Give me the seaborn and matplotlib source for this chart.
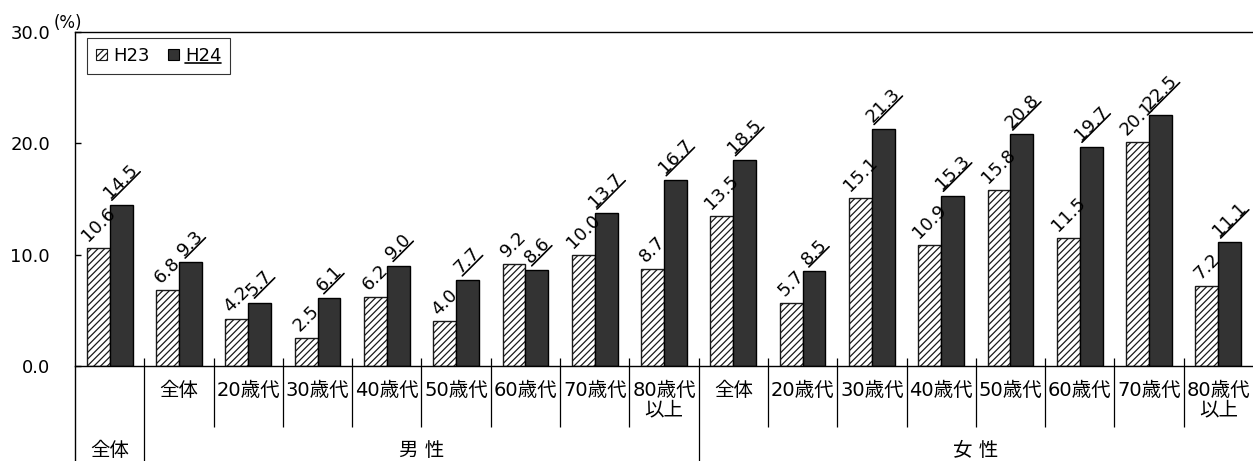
import numpy as np
import pandas as pd
import matplotlib
matplotlib.use("Agg")
import matplotlib.pyplot as plt
import seaborn as sns
from matplotlib.lines import Line2D
from matplotlib.patches import Patch
from matplotlib.transforms import IdentityTransform

# ---- data -------------------------------------------------------------
groups = ["全体"] + ["男 性"] * 8 + ["女 性"] * 8
sub_labels = ["", "全体", "20歳代", "30歳代", "40歳代", "50歳代", "60歳代", "70歳代", "80歳代\n以上",
              "全体", "20歳代", "30歳代", "40歳代", "50歳代", "60歳代", "70歳代", "80歳代\n以上"]
years = ["H23", "H24"]
h23 = [10.6, 6.8, 4.2, 2.5, 6.2, 4.0, 9.2, 10.0, 8.7, 13.5, 5.7, 15.1, 10.9, 15.8, 11.5, 20.1, 7.2]
h24 = [14.5, 9.3, 5.7, 6.1, 9.0, 7.7, 8.6, 13.7, 16.7, 18.5, 8.5, 21.3, 15.3, 20.8, 19.7, 22.5, 11.1]
y_ticks = [0, 10, 20, 30]

keys = [g + s for g, s in zip(groups, sub_labels)]
df = pd.DataFrame({
    "key": keys * 2,
    "year": [years[0]] * len(keys) + [years[1]] * len(keys),
    "value": h23 + h24,
})

# ---- style ------------------------------------------------------------
sns.set_style("white")
plt.rcParams["font.family"] = ["DejaVu Sans", "Noto Sans CJK JP"]
plt.rcParams["hatch.linewidth"] = 0.9
plt.rcParams["text.color"] = "black"
plt.rcParams["axes.labelcolor"] = "black"
plt.rcParams["xtick.color"] = "black"
plt.rcParams["ytick.color"] = "black"

W, H = 1253, 461
fig = plt.figure(figsize=(W / 100, H / 100), dpi=100)
ax = fig.add_axes([75 / W, 95 / H, 1 - 75 / W, 334 / H])

HATCH = "/////"
DARK = "#333333"

sns.barplot(data=df, x="key", y="value", hue="year", order=keys, hue_order=years,
            palette={"H23": "white", "H24": DARK}, width=0.66, gap=0, saturation=1,
            errorbar=None, edgecolor="black", linewidth=1.0, legend=False, ax=ax)

for p in ax.containers[0].patches:
    p.set_hatch(HATCH)
    p.set_edgecolor("#1a1a1a")

ax.set_xlim(-0.5, len(keys) - 0.5)
ax.set_ylim(0, 30)
ax.set_xticks([])
ax.set_xlabel("")
ax.set_ylabel("")
ax.set_yticks(y_ticks)
ax.set_yticklabels([f"{v:.1f}" for v in y_ticks])
ax.tick_params(axis="y", direction="in", length=4, width=1, pad=18, labelsize=13,
               left=True, colors="black")

for side in ["left", "top", "bottom"]:
    ax.spines[side].set_color("black")
    ax.spines[side].set_linewidth(1.0)
ax.spines["right"].set_visible(False)

# ---- category axis: separators and labels -----------------------------
xax = ax.get_xaxis_transform()
major_seps = [0.5, 8.5]
minor_seps = [i + 0.5 for i in range(1, 16) if i + 0.5 not in major_seps]
ax.vlines(minor_seps, -0.183, 0.024, transform=xax, color="black", lw=0.9, clip_on=False)
ax.vlines(major_seps, -0.32, 0.024, transform=xax, color="black", lw=0.9, clip_on=False)
ax.vlines([-0.5], -0.32, 0, transform=xax, color="black", lw=1.0, clip_on=False)

for i, lab in enumerate(sub_labels):
    if lab:
        ax.text(i, -0.045, lab, transform=xax, ha="center", va="top", fontsize=14,
                linespacing=1.0)

group_pos = {"全体": 0, "男 性": 4.5, "女 性": 12.5}
for g, x in group_pos.items():
    ax.text(x, -0.252, g, transform=xax, ha="center", va="center", fontsize=14)

fig.text(54 / W, 1 - 23 / H, "(%)", fontsize=12, ha="left", va="center")

# ---- legend -----------------------------------------------------------
handles = [Patch(facecolor="white", edgecolor="#1a1a1a", hatch=HATCH, linewidth=0.8),
           Patch(facecolor=DARK, edgecolor="black", linewidth=0.8)]
leg = ax.legend(handles, years, loc="upper left", bbox_to_anchor=(0.0102, 0.982),
                borderaxespad=0, ncol=2, frameon=True, fancybox=False, fontsize=13,
                handlelength=0.6, handleheight=0.6, handletextpad=0.35,
                columnspacing=1.0, borderpad=0.5)
leg.get_frame().set_edgecolor("black")
leg.get_frame().set_linewidth(0.8)

# ---- value labels (rotated 45 deg, H24 underlined) --------------------
fig.canvas.draw()
renderer = fig.canvas.get_renderer()
r2 = np.sqrt(2.0)
for container, vals, underline in zip(ax.containers, [h23, h24], [False, True]):
    for bar, v in zip(container.patches, vals):
        cx, top = ax.transData.transform((bar.get_x() + bar.get_width() / 2, bar.get_height()))
        t = ax.text(0, 0, f"{v:.1f}", fontsize=13, ha="left", va="bottom",
                    rotation=0, rotation_mode="anchor", transform=IdentityTransform(),
                    clip_on=False)
        bb = t.get_window_extent(renderer)
        w, h = bb.width, bb.height
        axp = cx - (w - h) / (2 * r2)
        ayp = top + 3
        t.set_rotation(45)
        t.set_position((axp, ayp))
        if underline:
            off = 2.0
            x0, y0 = axp - off / r2, ayp + off / r2
            fig.add_artist(Line2D([x0, x0 + w / r2], [y0, y0 + w / r2], color="black",
                                  lw=1.2, transform=IdentityTransform()))

# underline the H24 legend entry
lt = leg.get_texts()[1]
lb = lt.get_window_extent(renderer)
fig.add_artist(Line2D([lb.x0, lb.x1], [lb.y0 + 2, lb.y0 + 2], color="black", lw=1.2,
                      transform=IdentityTransform()))

fig.savefig("out.png", dpi=100)
